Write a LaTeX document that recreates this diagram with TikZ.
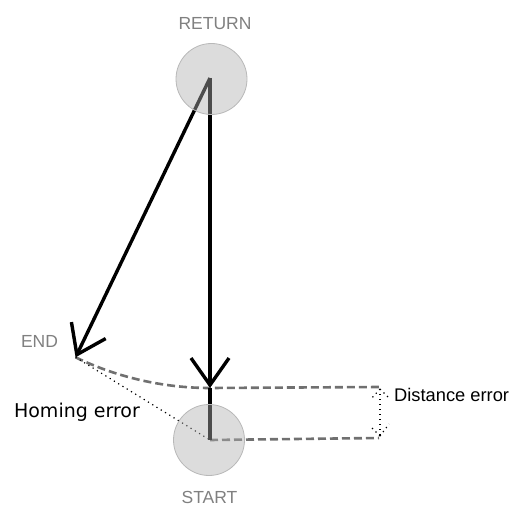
\documentclass[tikz,border=0pt]{standalone}
\usepackage{fontspec}
\setmainfont{Liberation Sans}
\newfontfamily\dvfont{DejaVu Sans}
\usetikzlibrary{arrows.meta,calc}
\definecolor{lblgray}{HTML}{808080}
\definecolor{dashgray}{HTML}{707070}
\definecolor{circfill}{HTML}{AFAFAF}
\definecolor{circline}{HTML}{B8B8B8}
\begin{document}
\begin{tikzpicture}[x=1pt,y=1pt,
  pathline/.style={line width=3.4pt,black},
  patharrow/.style={pathline,-{Straight Barb[length=27pt,width=38pt,line width=3.4pt]}},
  dashline/.style={dashgray,line width=2.6pt,dash pattern=on 8pt off 4pt},
  dotline/.style={black,line width=1.2pt,dash pattern=on 1.2pt off 3.8pt},
  zone/.style={circle,minimum size=71pt,inner sep=0pt,draw=circline,line width=0.8pt,fill=circfill,fill opacity=0.44},
  graylabel/.style={text=lblgray,font=\fontsize{17.5}{20}\selectfont,inner sep=0pt},
  blacklabel/.style={text=black,font=\fontsize{18.3}{20}\selectfont,inner sep=0pt}
]
\useasboundingbox (0,0) rectangle (512,507);
% key points
\coordinate (ret) at (210,429);
\coordinate (start) at (210,67);
\coordinate (endpt) at ($(ret)+(244.3:310)$);
\coordinate (mid) at (210,119);
\coordinate (de1) at (380,120);
\coordinate (de2) at (379,69);
\coordinate (tipT) at (380,118);
\coordinate (tipB) at (380,71);
% dashed arc and distance lines
\draw[dashline] (endpt) arc[start angle=244.3,end angle=270,radius=310] -- (de1);
\draw[dashline] (start) -- (de2);
% homing error dotted
\draw[dotline] (endpt) -- (start);
% distance error dotted double arrow
\draw[dotline] (tipT) -- (tipB);
\draw[dotline] (tipT) -- ++(-9,-10);
\draw[dotline] (tipT) -- ++(8,-8);
\draw[dotline] (tipB) -- ++(-10,10);
\draw[dotline] (tipB) -- ++(9,12);
% path arrows
\draw[patharrow] (ret) -- (endpt);
\draw[patharrow] (ret) -- (mid);
\draw[pathline] (mid) -- (start);
% zones
\node[zone] (retzone) at (211.5,428) {};
\node[zone] (startzone) at (209,67) {};
% labels
\node[graylabel] (retlbl) at (215,483) {RETURN};
\node[graylabel] (endlbl) at (39.5,166) {END};
\node[graylabel] (startlbl) at (209.5,10) {START};
\node[blacklabel,font=\dvfont\fontsize{19}{21}\selectfont] (homing) at (77,95) {Homing error};
\node[blacklabel,anchor=west] (dist) at (394,112) {Distance error};
\end{tikzpicture}
\end{document}
